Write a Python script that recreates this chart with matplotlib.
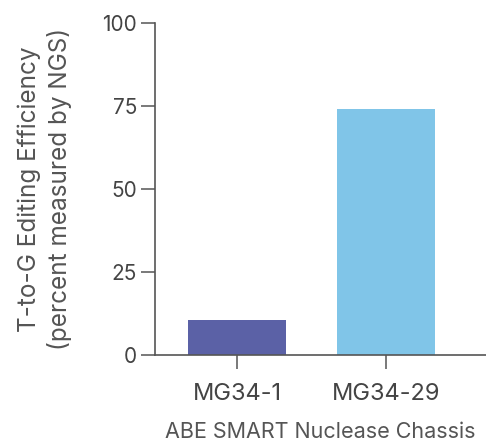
import matplotlib
matplotlib.use("Agg")
import matplotlib.pyplot as plt

categories = ["MG34-1", "MG34-29"]
values = [10.5, 74]
colors = ["#5b61a6", "#80c5e8"]
yticks = [0, 25, 50, 75, 100]

plt.rcParams['font.family'] = ['Inter', 'DejaVu Sans']
fig = plt.figure(figsize=(4.86, 4.45), dpi=100)
ax = fig.add_axes([0.319, 0.202, 0.681, 0.746])
ax.bar(range(len(categories)), values, width=0.66, color=colors)
ax.set_xlim(-0.55, 1.67)
ax.set_ylim(0, 100)
ax.set_yticks(yticks)
ax.set_xticks(range(len(categories)))
ax.set_xticklabels(categories)
for s in ["top", "right"]:
    ax.spines[s].set_visible(False)
for s in ["left", "bottom"]:
    ax.spines[s].set_color("#555555")
    ax.spines[s].set_linewidth(1.2)
ax.tick_params(axis="both", colors="#555555", labelcolor="#444444",
               length=10, width=1.1)
ax.tick_params(axis="y", labelsize=15, pad=3)
ax.tick_params(axis="x", labelsize=17, pad=10)
ax.set_ylabel("T-to-G Editing Efficiency\n(percent measured by NGS)", fontsize=17.5,
              color="#555555", labelpad=22, linespacing=1.3)
ax.set_xlabel("ABE SMART Nuclease Chassis", fontsize=15.5, color="#555555", labelpad=12)
fig.savefig("out.png", dpi=100)
